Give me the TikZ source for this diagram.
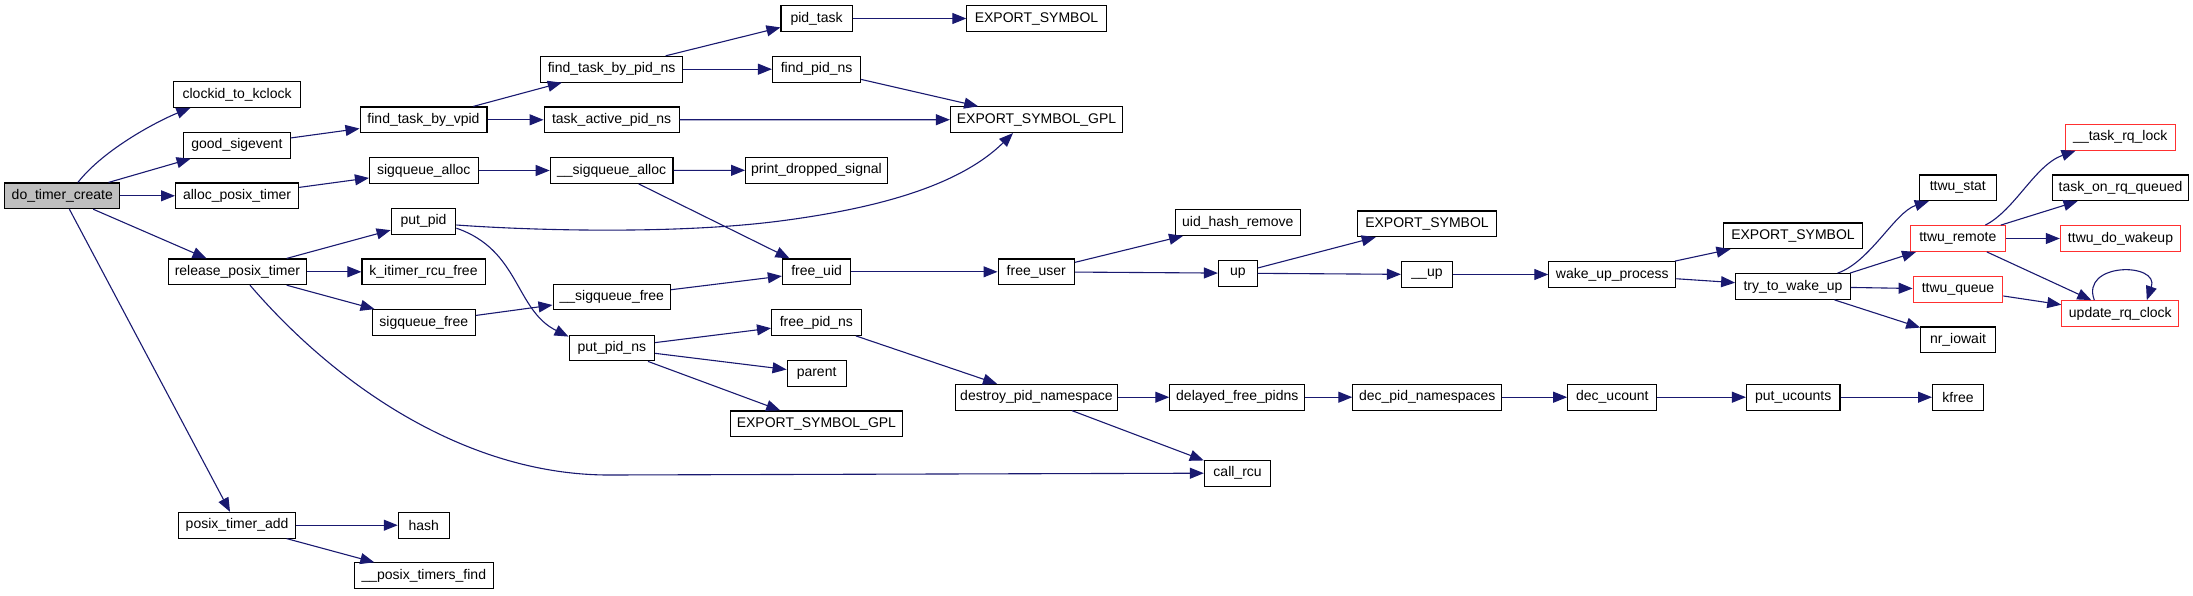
\documentclass[tikz,border=0pt]{standalone}
\usepackage{fontspec}
\setmainfont{Liberation Sans}
\usetikzlibrary{arrows.meta,calc}
\definecolor{edgeblue}{HTML}{191970}
\definecolor{nodered}{HTML}{FF3030}
\definecolor{rootgray}{HTML}{BFBFBF}
\tikzset{
  box/.style={draw=black, line width=1.1pt, fill=white, inner sep=0pt, minimum height=25.7pt,
    font=\fontsize{14pt}{16pt}\selectfont, text=black},
  redbox/.style={box, draw=nodered},
  rootbox/.style={box, fill=rootgray},
  conn/.style={draw=edgeblue, line width=1.1pt, -{Triangle[length=14pt,width=11pt]}, fill=none},
}
\begin{document}
\begin{tikzpicture}[x=1pt,y=-1pt]
\useasboundingbox (0,0) rectangle (2193,595);
% column 1
\node[rootbox, minimum width=115.2pt] (dtc) at (62.3,195.8) {do\_timer\_create};
% column 2
\node[box, minimum width=126.9pt] (ck) at (237.1,94.5) {clockid\_to\_kclock};
\node[box, minimum width=106.6pt] (gs) at (236.9,145.3) {good\_sigevent};
\node[box, minimum width=123.1pt] (apt) at (237.1,195.8) {alloc\_posix\_timer};
\node[box, minimum width=138.7pt] (rpt) at (237.4,271.8) {release\_posix\_timer};
\node[box, minimum width=117.5pt] (pta) at (237.1,525.2) {posix\_timer\_add};
% column 3
\node[box, minimum width=126.9pt] (ftv) at (423.5,119.8) {find\_task\_by\_vpid};
\node[box, minimum width=108.6pt] (sqa) at (423.8,170.5) {sigqueue\_alloc};
\node[box, minimum width=64.7pt] (pp) at (423.5,221.2) {put\_pid};
\node[box, minimum width=123.1pt] (kirf) at (423.5,271.8) {k\_itimer\_rcu\_free};
\node[box, minimum width=102.9pt] (sqf) at (423.8,322.5) {sigqueue\_free};
\node[box, minimum width=51pt] (hash) at (423.8,525.2) {hash};
\node[box, minimum width=138.8pt] (ptf) at (423.8,575.7) {\_\_posix\_timers\_find};
% column 4
\node[box, minimum width=141.6pt] (ftp) at (611.6,69.2) {find\_task\_by\_pid\_ns};
\node[box, minimum width=135pt] (tap) at (611.6,119.8) {task\_active\_pid\_ns};
\node[box, minimum width=122.7pt] (usqa) at (611.6,170.5) {\_\_sigqueue\_alloc};
\node[box, minimum width=117.5pt] (usqf) at (611.8,297) {\_\_sigqueue\_free};
\node[box, minimum width=85.5pt] (ppn) at (611.8,348) {put\_pid\_ns};
% column 5
\node[box, minimum width=71.2pt] (pt) at (816.6,18.5) {pid\_task};
\node[box, minimum width=88.2pt] (fpn) at (816.6,69.2) {find\_pid\_ns};
\node[box, minimum width=141.6pt] (pds) at (816.4,170.2) {print\_dropped\_signal};
\node[box, minimum width=68.4pt] (fu) at (816.6,271.8) {free\_uid};
\node[box, minimum width=89.7pt] (fpns) at (816.4,322.5) {free\_pid\_ns};
\node[box, minimum width=59pt] (par) at (816.6,373.2) {parent};
\node[box, minimum width=172.7pt] (gpl2) at (816.4,423.8) {EXPORT\_SYMBOL\_GPL};
% column 6
\node[box, minimum width=139.2pt] (es1) at (1036.5,18.5) {EXPORT\_SYMBOL};
\node[box, minimum width=172.2pt] (gpl1) at (1036.5,119.7) {EXPORT\_SYMBOL\_GPL};
\node[box, minimum width=76.5pt] (fus) at (1036.3,271.8) {free\_user};
\node[box, minimum width=162.8pt] (dpn) at (1036.5,397.2) {destroy\_pid\_namespace};
% column 7
\node[box, minimum width=124.6pt] (uhr) at (1237.8,222.5) {uid\_hash\_remove};
\node[box, minimum width=38.7pt] (up) at (1237.8,273.2) {up};
\node[box, minimum width=135pt] (dfp) at (1237.3,397.2) {delayed\_free\_pidns};
\node[box, minimum width=66.5pt] (crcu) at (1237.6,473.2) {call\_rcu};
% column 8
\node[box, minimum width=138.7pt] (es2) at (1427,223.8) {EXPORT\_SYMBOL};
\node[box, minimum width=51pt] (uup) at (1427,274.5) {\_\_up};
\node[box, minimum width=148.7pt] (dpns) at (1427.2,397.2) {dec\_pid\_namespaces};
% column 9
\node[box, minimum width=126.9pt] (wup) at (1612.3,274.5) {wake\_up\_process};
\node[box, minimum width=89.2pt] (decu) at (1612.3,397.2) {dec\_ucount};
% column 10
\node[box, minimum width=139.2pt] (es3) at (1793,235.8) {EXPORT\_SYMBOL};
\node[box, minimum width=114.7pt] (ttwu) at (1793,286.5) {try\_to\_wake\_up};
\node[box, minimum width=93.5pt] (puc) at (1793.2,397.2) {put\_ucounts};
% column 11
\node[box, minimum width=76.9pt] (tstat) at (1957.8,187.8) {ttwu\_stat};
\node[redbox, minimum width=94.9pt] (tremote) at (1957.8,238.5) {ttwu\_remote};
\node[redbox, minimum width=89.7pt] (tqueue) at (1958,289.2) {ttwu\_queue};
\node[box, minimum width=74.5pt] (nri) at (1958,339.8) {nr\_iowait};
\node[box, minimum width=50.9pt] (kfree) at (1958,397.2) {kfree};
% column 12
\node[redbox, minimum width=110.4pt] (trql) at (2120.3,137.3) {\_\_task\_rq\_lock};
\node[box, minimum width=135.5pt] (torq) at (2120.5,187.8) {task\_on\_rq\_queued};
\node[redbox, minimum width=120.3pt] (tdw) at (2120.5,238.5) {ttwu\_do\_wakeup};
\node[redbox, minimum width=117pt] (urc) at (2120.3,313.5) {update\_rq\_clock};

% edges from do_timer_create
\draw[conn] ($(dtc.north)+(15.6,0)$) .. controls (105,148) and (160,120) .. ($(ck.south west)+(17.3,0)$);
\draw[conn] (dtc) -- (gs);
\draw[conn] (dtc) -- (apt);
\draw[conn] (dtc) -- (rpt);
\draw[conn] (dtc) -- (pta);
% column 2 out
\draw[conn] (gs) -- (ftv);
\draw[conn] (apt) -- (sqa);
\draw[conn] (rpt) -- (pp);
\draw[conn] (rpt) -- (kirf);
\draw[conn] (rpt) -- (sqf);
\draw[conn] ($(rpt.south)+(12.6,0)$) .. controls (340,390) and (470,475) .. (609,475) -- (crcu.west);
\draw[conn] (pta) -- (hash);
\draw[conn] (pta) -- (ptf);
% column 3 out
\draw[conn] (ftv) -- (ftp);
\draw[conn] (ftv) -- (tap);
\draw[conn] (sqa) -- (usqa);
\draw[conn] ($(pp.east)+(0,3.8)$) .. controls (540,231) and (680,234) .. (780,221) .. controls (880,208) and (960,185) .. ($(gpl1.south)+(-23.5,0)$);
\draw[conn] ($(pp.east)+(0,7)$) .. controls (520,250) and (515,310) .. ($(ppn.north west)+(0,2)$);
\draw[conn] (sqf) -- (usqf);
% column 4 out
\draw[conn] (ftp) -- (pt);
\draw[conn] (ftp) -- (fpn);
\draw[conn] (tap) -- (gpl1);
\draw[conn] (usqa) -- (pds);
\draw[conn] (usqa) -- (fu);
\draw[conn] (usqf) -- (fu);
\draw[conn] (ppn) -- (fpns);
\draw[conn] (ppn) -- (par);
\draw[conn] (ppn) -- (gpl2);
% column 5 out
\draw[conn] (pt) -- (es1);
\draw[conn] (fpn) -- (gpl1);
\draw[conn] (fu) -- (fus);
\draw[conn] (fpns) -- (dpn);
% column 6 out
\draw[conn] (fus) -- (uhr);
\draw[conn] (fus) -- (up);
\draw[conn] (dpn) -- (dfp);
\draw[conn] (dpn) -- (crcu);
% column 7 out
\draw[conn] (up) -- (es2);
\draw[conn] (up) -- (uup);
\draw[conn] (dfp) -- (dpns);
% column 8 out
\draw[conn] (uup) -- (wup);
\draw[conn] (dpns) -- (decu);
% column 9 out
\draw[conn] (wup) -- (es3);
\draw[conn] (wup) -- (ttwu);
\draw[conn] (decu) -- (puc);
% column 10 out
\draw[conn] ($(ttwu.north)+(44.6,0)$) .. controls (1870,262) and (1895,212) .. ($(tstat.south west)+(10,0)$);
\draw[conn] ($(ttwu.north east)+(-1,0)$) -- (tremote);
\draw[conn] (ttwu) -- (tqueue);
\draw[conn] (ttwu) -- (nri);
\draw[conn] (puc) -- (kfree);
% column 11 out
\draw[conn] ($(tremote.north)+(27.5,0)$) .. controls (2015,210) and (2035,165) .. ($(trql.south west)+(11,0)$);
\draw[conn] (tremote) -- (torq);
\draw[conn] (tremote) -- (tdw);
\draw[conn] (tremote) -- (urc);
\draw[conn] (tqueue) -- (urc);
% self loop
\draw[conn] ($(urc.north)+(-26,0)$) .. controls (2080,262) and (2160,262) .. ($(urc.north)+(26.5,0)$);
\end{tikzpicture}
\end{document}
